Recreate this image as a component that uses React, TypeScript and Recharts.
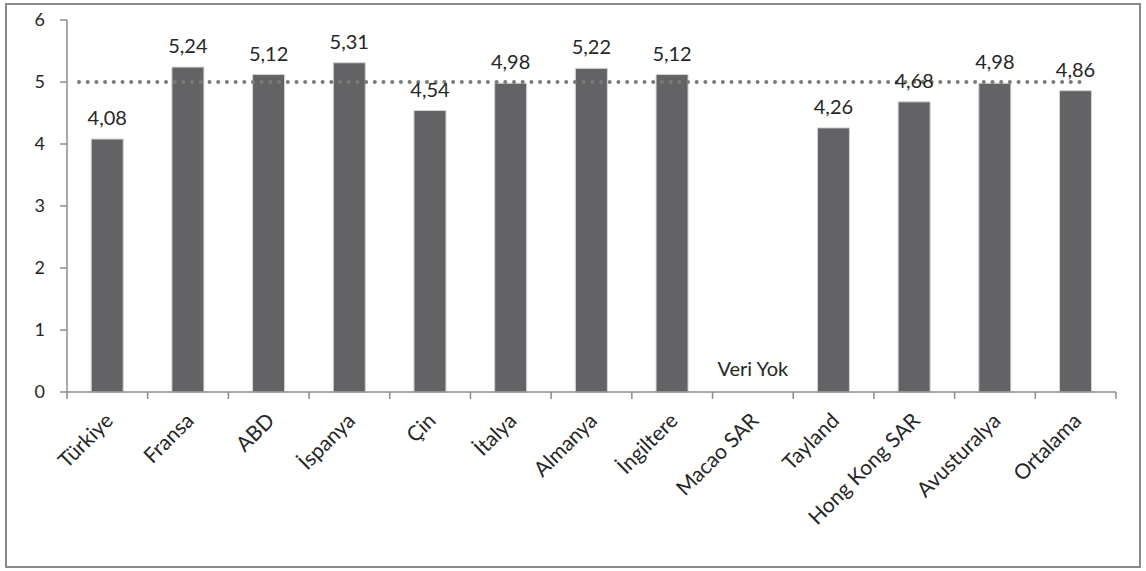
import React from 'react';
import { BarChart, Bar, XAxis, YAxis, LabelList, ReferenceLine, ReferenceDot } from 'recharts';

const CATEGORIES = ['Türkiye', 'Fransa', 'ABD', 'İspanya', 'Çin', 'İtalya', 'Almanya', 'İngiltere', 'Macao SAR', 'Tayland', 'Hong Kong SAR', 'Avusturalya', 'Ortalama'];
const VALUES: (number | null)[] = [4.08, 5.24, 5.12, 5.31, 4.54, 4.98, 5.22, 5.12, null, 4.26, 4.68, 4.98, 4.86];
const Y_TICKS = [0, 1, 2, 3, 4, 5, 6];
const TARGET = 5;
const NO_DATA = 'Veri Yok';

const W = 1146;
const H = 571;
const Y_AXIS_W = 67;
const MARGIN = { top: 20, right: 30, left: 0, bottom: 0 };
const X_AXIS_H = 179;
const BAND = (W - MARGIN.left - MARGIN.right - Y_AXIS_W) / CATEGORIES.length;

const FONT = 'Lato, "Open Sans", sans-serif';
const TEXT = '#262626';
const AXIS = '#8c8c8c';

const data = CATEGORIES.map((name, i) => ({ name, value: VALUES[i] }));

const fmt = (v: any) => (v == null ? '' : Number(v).toFixed(2).replace('.', ','));

const XTick = (props: any) => {
  const { x, y, payload, index } = props;
  const left = x - BAND / 2;
  const ax = x + 7;
  const ay = y + 23;
  return (
    <g>
      <line x1={left} y1={y - 7} x2={left} y2={y} stroke={AXIS} strokeWidth={1.5} />
      {index === CATEGORIES.length - 1 && (
        <line x1={x + BAND / 2} y1={y - 7} x2={x + BAND / 2} y2={y} stroke={AXIS} strokeWidth={1.5} />
      )}
      <text
        x={ax}
        y={ay}
        transform={`rotate(-45, ${ax}, ${ay})`}
        textAnchor="end"
        fontFamily={FONT}
        fontSize={21}
        fill={TEXT}
      >
        {payload.value}
      </text>
    </g>
  );
};

const DottedLine = (props: any) => {
  const { x1, x2, y1 } = props;
  return (
    <line
      x1={x1 + 12}
      x2={x2 - 29}
      y1={y1}
      y2={y1}
      stroke="#7a7a7a"
      strokeWidth={4}
      strokeLinecap="round"
      strokeDasharray="0 8.7"
    />
  );
};

export default function App() {
  return (
    <div style={{ position: 'absolute', left: 0, top: 0, width: W, height: H, background: '#fff' }}>
      <div
        style={{
          position: 'absolute',
          left: 5,
          top: 3,
          width: 1136,
          height: 565,
          border: '2px solid #8a8a8a',
          boxSizing: 'border-box',
        }}
      />
      <div style={{ position: 'absolute', left: 0, top: 0 }}>
        <BarChart width={W} height={H} data={data} margin={MARGIN} barCategoryGap="30%">
          <XAxis
            dataKey="name"
            type="category"
            interval={0}
            height={X_AXIS_H}
            stroke={AXIS}
            axisLine={{ stroke: AXIS, strokeWidth: 1.5 }}
            tickLine={false}
            tickSize={7}
            tickMargin={0}
            tick={<XTick />}
          />
          <YAxis
            width={Y_AXIS_W}
            domain={[0, 6]}
            ticks={Y_TICKS}
            interval={0}
            axisLine={{ stroke: AXIS, strokeWidth: 1.5 }}
            tickLine={{ stroke: AXIS, strokeWidth: 1.5 }}
            tickSize={7}
            tickMargin={15}
            tick={{ fill: TEXT, fontSize: 18, fontFamily: FONT }}
          />
          <Bar dataKey="value" fill="#636366" stroke="#d4d4d4" strokeWidth={1} isAnimationActive={false}>
            <LabelList
              dataKey="value"
              position="top"
              offset={14}
              formatter={fmt}
              style={{ fill: TEXT, fontSize: 20, fontFamily: FONT }}
            />
          </Bar>
          <ReferenceLine y={TARGET} shape={<DottedLine />} />
          <ReferenceDot
            x="Macao SAR"
            y={0}
            r={0}
            fill="none"
            stroke="none"
            label={{ value: NO_DATA, position: 'top', offset: 16, fill: TEXT, fontSize: 20, fontFamily: FONT }}
          />
        </BarChart>
      </div>
    </div>
  );
}
